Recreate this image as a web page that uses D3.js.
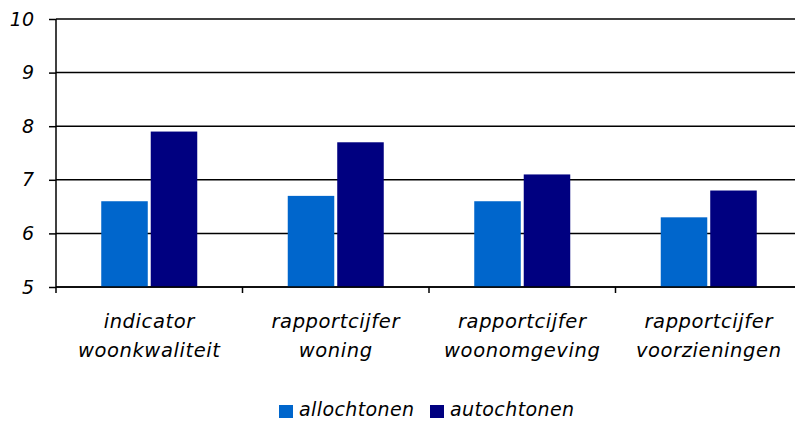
<!DOCTYPE html>
<html><head><meta charset="utf-8">
<script src="https://cdn.jsdelivr.net/npm/d3@7/dist/d3.min.js"></script>
<style>body{margin:0;background:#fff;overflow:hidden}svg{display:block}</style>
</head><body><svg id="c" width="795" height="421"></svg>
<script>
const categories = [["indicator","woonkwaliteit"],["rapportcijfer","woning"],["rapportcijfer","woonomgeving"],["rapportcijfer","voorzieningen"]];
const seriesNames = ["allochtonen","autochtonen"];
const allochtonen = [6.6, 6.7, 6.6, 6.3];
const autochtonen = [7.9, 7.7, 7.1, 6.8];
const yTicks = [5,6,7,8,9,10];
const colors = ["#0066CC","#000080"];

(function(){
const svg = d3.select("#c");
const font = "'DejaVu Sans', Verdana, sans-serif";
const pL = 56, pR = 802, pT = 19, pB = 287;
const x = d3.scaleBand().domain(d3.range(categories.length)).range([pL, pR]);
const y = d3.scaleLinear().domain([5,10]).range([pB, pT]);
const inner = d3.scaleBand().domain([0,1]).range([0, 96]).paddingInner(0.06);

svg.append("g").selectAll("line").data(yTicks).join("line")
  .attr("x1", pL).attr("x2", pR).attr("y1", d=>y(d)).attr("y2", d=>y(d))
  .attr("stroke", "#000").attr("stroke-width", 1.5);

const data = [allochtonen, autochtonen];
categories.forEach((c,i)=>{
  const cx = x(i) + x.bandwidth()/2;
  data.forEach((s,j)=>{
    svg.append("rect")
      .attr("x", cx - 48 + inner(j)).attr("width", inner.bandwidth())
      .attr("y", y(s[i])).attr("height", y(5) - y(s[i]))
      .attr("fill", colors[j]);
  });
});

const ya = svg.append("g").attr("transform", `translate(${pL},0)`)
  .call(d3.axisLeft(y).tickValues(yTicks).tickFormat(d3.format("d")).tickSize(7).tickPadding(8));
ya.select(".domain").attr("stroke","#000").attr("stroke-width",1.5).attr("d", `M0,${pT}V${pB}`);
ya.selectAll(".tick line").attr("stroke","#000").attr("stroke-width",1.5);
ya.selectAll(".tick text").attr("font-family", font).attr("font-style","italic").attr("font-size",19).attr("fill","#000").attr("dx", -7);

const xa = svg.append("g").attr("transform", `translate(0,${pB})`);
xa.append("line").attr("x1",pL).attr("x2",pR).attr("stroke","#000").attr("stroke-width",1.5);
d3.range(categories.length+1).forEach(i=>{
  const xx = i < categories.length ? x(i) : pR;
  xa.append("line").attr("x1",xx).attr("x2",xx).attr("y1",0).attr("y2",6).attr("stroke","#000").attr("stroke-width",1.5);
});
categories.forEach((c,i)=>{
  const t = xa.append("text").attr("text-anchor","middle").attr("font-family",font)
    .attr("font-style","italic").attr("font-size",19.5).attr("letter-spacing",0.6).attr("fill","#000");
  c.forEach((ln,k)=>t.append("tspan").attr("x", x(i)+x.bandwidth()/2).attr("y", 41 + k*29).text(ln));
});

const lx = [279, 430];
seriesNames.forEach((n,j)=>{
  svg.append("rect").attr("x",lx[j]).attr("y",405).attr("width",14).attr("height",13).attr("fill",colors[j]);
  svg.append("text").attr("x",lx[j]+20).attr("y",416).attr("font-family",font).attr("font-style","italic")
    .attr("font-size",19).attr("letter-spacing",0.4).attr("fill","#000").text(n);
});
})();
</script></body></html>
